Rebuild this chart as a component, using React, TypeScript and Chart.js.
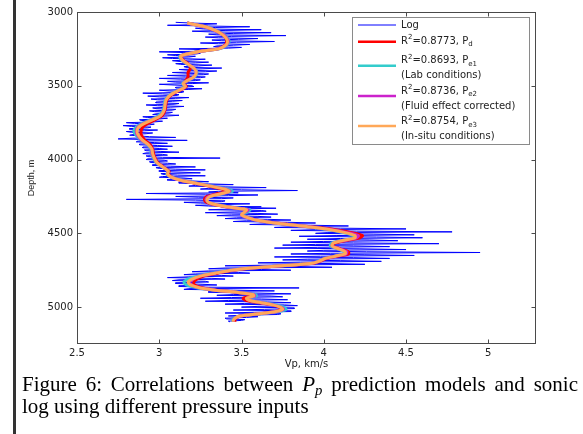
import React, { useEffect, useRef } from 'react';
import { Chart, registerables } from 'chart.js';
Chart.register(...registerables);

// ---- axis ticks ----
const xTicks = [2.5, 3, 3.5, 4, 4.5, 5];
const yTicks = [3000, 3500, 4000, 4500, 5000];

// ---- sonic log, samples on the 10 m grid (depth m, Vp km/s) ----
const logDepth = [
  3070, 3080, 3090, 3100, 3110, 3120, 3130, 3140, 3150, 3160,
  3170, 3180, 3190, 3200, 3210, 3220, 3230, 3240, 3250, 3260,
  3270, 3280, 3290, 3300, 3310, 3320, 3330, 3340, 3350, 3360,
  3370, 3380, 3390, 3400, 3410, 3420, 3430, 3440, 3450, 3460,
  3470, 3480, 3490, 3500, 3510, 3520, 3530, 3540, 3550, 3560,
  3570, 3580, 3590, 3600, 3610, 3620, 3630, 3640, 3650, 3660,
  3670, 3680, 3690, 3700, 3710, 3720, 3730, 3740, 3750, 3760,
  3770, 3780, 3790, 3800, 3810, 3820, 3830, 3840, 3850, 3860,
  3870, 3880, 3890, 3900, 3910, 3920, 3930, 3940, 3950, 3960,
  3970, 3980, 3990, 4000, 4010, 4020, 4030, 4040, 4050, 4060,
  4070, 4080, 4090, 4100, 4110, 4120, 4130, 4140, 4150, 4160,
  4170, 4180, 4190, 4200, 4210, 4220, 4230, 4240, 4250, 4260,
  4270, 4280, 4290, 4300, 4310, 4320, 4330, 4340, 4350, 4360,
  4370, 4380, 4390, 4400, 4410, 4420, 4430, 4440, 4450, 4460,
  4470, 4480, 4490, 4500, 4510, 4520, 4530, 4540, 4550, 4560,
  4570, 4580, 4590, 4600, 4610, 4620, 4630, 4640, 4650, 4660,
  4670, 4680, 4690, 4700, 4710, 4720, 4730, 4740, 4750, 4760,
  4770, 4780, 4790, 4800, 4810, 4820, 4830, 4840, 4850, 4860,
  4870, 4880, 4890, 4900, 4910, 4920, 4930, 4940, 4950, 4960,
  4970, 4980, 4990, 5000, 5010, 5020, 5030, 5040, 5050, 5060,
  5070, 5080, 5090, 5100,
];
const logVp = [
  3.10, 3.35, 3.05, 3.55, 3.22, 3.62, 3.20, 3.68, 3.30, 3.77,
  3.28, 3.60, 3.32, 3.70, 3.25, 3.55, 3.35, 3.50, 3.12, 3.30,
  3.00, 3.25, 3.05, 3.22, 3.02, 3.28, 3.08, 3.30, 3.10, 3.32,
  3.15, 3.38, 3.12, 3.35, 3.08, 3.30, 3.05, 3.28, 3.00, 3.25,
  3.05, 3.30, 3.00, 3.20, 3.10, 3.26, 3.00, 3.15, 2.90, 3.12,
  2.93, 3.18, 2.95, 3.14, 2.98, 3.12, 2.92, 3.15, 2.96, 3.10,
  2.94, 3.08, 2.98, 3.12, 2.90, 3.05, 2.88, 3.02, 2.80, 2.97,
  2.78, 2.95, 2.82, 2.99, 2.80, 2.96, 2.84, 2.88, 3.10, 2.75,
  3.17, 2.86, 3.05, 2.88, 3.08, 2.90, 3.05, 2.92, 3.12, 2.90,
  3.05, 2.93, 3.37, 2.92, 3.05, 2.95, 3.10, 2.96, 3.22, 3.00,
  3.28, 3.00, 3.25, 3.02, 3.28, 3.00, 3.20, 3.05, 3.30, 3.12,
  3.45, 3.18, 3.65, 3.25, 3.84, 3.30, 2.92, 3.60, 3.10, 3.45,
  2.80, 3.40, 3.15, 3.55, 3.22, 3.62, 3.71, 3.30, 3.65, 3.28,
  3.72, 3.35, 3.68, 3.40, 3.80, 3.45, 3.95, 3.55, 4.15, 3.70,
  4.50, 3.80, 4.78, 3.95, 4.55, 3.85, 4.60, 3.90, 4.45, 3.80,
  4.70, 3.75, 4.40, 3.70, 4.50, 3.90, 4.95, 3.80, 4.55, 3.70,
  4.40, 3.75, 4.35, 3.60, 4.25, 3.40, 4.05, 3.30, 3.80, 3.20,
  3.55, 3.15, 3.45, 3.05, 3.40, 3.08, 3.30, 3.10, 3.35, 3.12,
  3.85, 3.15, 3.70, 3.30, 3.80, 3.35, 3.75, 3.25, 3.78, 3.28,
  3.80, 3.40, 3.84, 3.50, 3.82, 3.45, 3.80, 3.40, 3.72, 3.42,
  3.53, 3.41, 3.50, 3.43,
];

// ---- sonic log, in-between samples (depth m, Vp km/s) ----
const logDepthMid = [
  3075, 3085, 3095, 3105, 3115, 3125, 3135, 3145, 3155, 3165,
  3175, 3185, 3195, 3205, 3215, 3225, 3235, 3245, 3255, 3265,
  3275, 3285, 3295, 3305, 3315, 3325, 3335, 3345, 3355, 3365,
  3375, 3385, 3395, 3405, 3415, 3425, 3435, 3445, 3455, 3465,
  3475, 3485, 3495, 3505, 3515, 3525, 3535, 3545, 3555, 3565,
  3575, 3585, 3595, 3605, 3615, 3625, 3635, 3645, 3655, 3665,
  3675, 3685, 3695, 3705, 3715, 3725, 3735, 3745, 3755, 3765,
  3775, 3785, 3795, 3805, 3815, 3825, 3835, 3845, 3855, 3865,
  3875, 3885, 3895, 3905, 3915, 3925, 3935, 3945, 3955, 3965,
  3975, 3985, 3995, 4005, 4015, 4025, 4035, 4045, 4055, 4065,
  4075, 4085, 4095, 4105, 4115, 4125, 4135, 4145, 4155, 4165,
  4175, 4185, 4195, 4205, 4215, 4225, 4235, 4245, 4255, 4265,
  4275, 4285, 4295, 4305, 4315, 4325, 4335, 4345, 4355, 4365,
  4375, 4385, 4395, 4405, 4415, 4425, 4435, 4445, 4455, 4465,
  4475, 4485, 4495, 4505, 4515, 4525, 4535, 4545, 4555, 4565,
  4575, 4585, 4595, 4605, 4615, 4625, 4635, 4645, 4655, 4665,
  4675, 4685, 4695, 4705, 4715, 4725, 4735, 4745, 4755, 4765,
  4775, 4785, 4795, 4805, 4815, 4825, 4835, 4845, 4855, 4865,
  4875, 4885, 4895, 4905, 4915, 4925, 4935, 4945, 4955, 4965,
  4975, 4985, 4995, 5005, 5015, 5025, 5035, 5045, 5055, 5065,
  5075, 5085, 5095,
];
const logVpMid = [
  3.20, 3.26, 3.30, 3.34, 3.27, 3.40, 3.31, 3.45, 3.35, 3.44,
  3.36, 3.48, 3.38, 3.47, 3.36, 3.45, 3.33, 3.42, 3.26, 3.30,
  3.15, 3.22, 3.10, 3.18, 3.08, 3.20, 3.12, 3.22, 3.13, 3.24,
  3.16, 3.26, 3.18, 3.28, 3.17, 3.27, 3.16, 3.25, 3.13, 3.22,
  3.10, 3.20, 3.09, 3.21, 3.10, 3.18, 3.06, 3.14, 3.02, 3.11,
  3.00, 3.10, 2.99, 3.08, 2.98, 3.09, 2.99, 3.07, 2.98, 3.08,
  2.97, 3.06, 2.96, 3.05, 2.93, 3.00, 2.89, 2.97, 2.85, 2.94,
  2.83, 2.93, 2.82, 2.91, 2.83, 2.92, 2.82, 2.94, 2.84, 2.95,
  2.87, 2.97, 2.88, 2.99, 2.90, 3.00, 2.91, 3.01, 2.92, 3.02,
  2.92, 3.02, 2.93, 3.03, 2.94, 3.05, 2.96, 3.07, 2.98, 3.10,
  3.00, 3.12, 3.01, 3.11, 3.02, 3.15, 3.05, 3.20, 3.12, 3.30,
  3.22, 3.40, 3.30, 3.50, 3.36, 3.48, 3.28, 3.42, 3.24, 3.38,
  3.22, 3.38, 3.25, 3.40, 3.30, 3.52, 3.45, 3.62, 3.46, 3.60,
  3.44, 3.60, 3.47, 3.66, 3.53, 3.78, 3.65, 3.92, 3.80, 4.10,
  3.95, 4.20, 4.02, 4.30, 4.08, 4.32, 4.10, 4.28, 4.00, 4.18,
  3.95, 4.18, 3.96, 4.22, 4.00, 4.26, 4.04, 4.25, 3.98, 4.18,
  3.90, 4.10, 3.86, 4.05, 3.70, 3.85, 3.40, 3.62, 3.30, 3.48,
  3.22, 3.38, 3.18, 3.32, 3.12, 3.28, 3.10, 3.26, 3.12, 3.30,
  3.18, 3.45, 3.30, 3.60, 3.45, 3.68, 3.44, 3.62, 3.42, 3.66,
  3.52, 3.76, 3.60, 3.82, 3.64, 3.80, 3.58, 3.74, 3.50, 3.60,
  3.40, 3.52, 3.42,
];

// ---- model predictions (depth m, Vp km/s) ----
const modelDepth = [
  3075, 3100, 3125, 3150, 3175, 3200, 3225, 3250, 3265, 3285,
  3300, 3325, 3350, 3380, 3410, 3440, 3465, 3485, 3505, 3525,
  3550, 3575, 3600, 3630, 3665, 3700, 3730, 3755, 3780, 3805,
  3830, 3865, 3900, 3930, 3960, 3990, 4020, 4050, 4080, 4100,
  4120, 4140, 4160, 4180, 4200, 4215, 4230, 4250, 4270, 4290,
  4310, 4325, 4340, 4355, 4375, 4395, 4415, 4435, 4455, 4475,
  4495, 4515, 4530, 4545, 4565, 4585, 4605, 4625, 4640, 4655,
  4670, 4690, 4705, 4720, 4735, 4750, 4770, 4790, 4810, 4830,
  4850, 4870, 4885, 4900, 4915, 4925, 4940, 4955, 4970, 4985,
  5000, 5015, 5030, 5045, 5060, 5075, 5090, 5100,
];
const pdVp = [
  3.17, 3.28, 3.34, 3.38, 3.405, 3.41, 3.40, 3.355, 3.26, 3.17,
  3.13, 3.145, 3.175, 3.19, 3.175, 3.175, 3.16, 3.15, 3.165, 3.135,
  3.09, 3.06, 3.045, 3.04, 3.035, 3.02, 2.975, 2.93, 2.90, 2.89,
  2.89, 2.91, 2.945, 2.96, 2.965, 2.975, 2.99, 3.025, 3.06, 3.055,
  3.08, 3.13, 3.215, 3.30, 3.38, 3.41, 3.36, 3.29, 3.275, 3.29,
  3.355, 3.44, 3.53, 3.525, 3.505, 3.545, 3.615, 3.75, 3.92, 4.07,
  4.17, 4.235, 4.22, 4.15, 4.07, 4.055, 4.10, 4.15, 4.15, 4.08,
  4.02, 3.975, 3.925, 3.75, 3.565, 3.45, 3.355, 3.27, 3.23, 3.21,
  3.215, 3.265, 3.345, 3.47, 3.565, 3.565, 3.51, 3.53, 3.61, 3.685,
  3.73, 3.745, 3.705, 3.61, 3.495, 3.465, 3.46, 3.46,
];
const pe1Vp = [
  3.17, 3.285, 3.345, 3.39, 3.415, 3.425, 3.41, 3.365, 3.26, 3.165,
  3.125, 3.135, 3.165, 3.21, 3.23, 3.215, 3.17, 3.14, 3.155, 3.125,
  3.08, 3.05, 3.035, 3.03, 3.025, 3.0, 2.95, 2.895, 2.86, 2.845,
  2.855, 2.885, 2.93, 2.95, 2.95, 2.965, 2.98, 3.02, 3.055, 3.045,
  3.075, 3.135, 3.23, 3.325, 3.415, 3.445, 3.39, 3.31, 3.285, 3.30,
  3.37, 3.455, 3.55, 3.535, 3.505, 3.545, 3.615, 3.74, 3.895, 4.03,
  4.12, 4.18, 4.18, 4.125, 4.05, 4.04, 4.085, 4.125, 4.125, 4.065,
  4.005, 3.965, 3.915, 3.73, 3.55, 3.43, 3.325, 3.235, 3.175, 3.15,
  3.165, 3.235, 3.335, 3.475, 3.585, 3.59, 3.535, 3.555, 3.63, 3.71,
  3.755, 3.77, 3.725, 3.62, 3.49, 3.455, 3.445, 3.445,
];
const pe2Vp = [
  3.17, 3.28, 3.34, 3.385, 3.41, 3.42, 3.405, 3.36, 3.26, 3.17,
  3.13, 3.14, 3.17, 3.21, 3.225, 3.21, 3.17, 3.145, 3.16, 3.13,
  3.085, 3.055, 3.04, 3.035, 3.03, 3.01, 2.96, 2.905, 2.87, 2.86,
  2.865, 2.89, 2.935, 2.955, 2.955, 2.97, 2.985, 3.02, 3.055, 3.05,
  3.075, 3.13, 3.225, 3.315, 3.40, 3.43, 3.38, 3.305, 3.285, 3.30,
  3.36, 3.445, 3.54, 3.525, 3.50, 3.54, 3.61, 3.745, 3.905, 4.05,
  4.145, 4.21, 4.20, 4.14, 4.06, 4.05, 4.095, 4.14, 4.135, 4.07,
  4.01, 3.97, 3.92, 3.74, 3.56, 3.44, 3.34, 3.25, 3.205, 3.185,
  3.195, 3.25, 3.34, 3.47, 3.575, 3.58, 3.53, 3.55, 3.62, 3.695,
  3.74, 3.755, 3.715, 3.61, 3.49, 3.46, 3.45, 3.45,
];
const pe3Vp = [
  3.17, 3.28, 3.34, 3.38, 3.405, 3.415, 3.405, 3.36, 3.26, 3.17,
  3.13, 3.14, 3.17, 3.21, 3.225, 3.21, 3.17, 3.145, 3.16, 3.13,
  3.085, 3.055, 3.04, 3.035, 3.03, 3.01, 2.96, 2.91, 2.875, 2.865,
  2.87, 2.895, 2.935, 2.955, 2.96, 2.97, 2.985, 3.02, 3.055, 3.05,
  3.075, 3.13, 3.22, 3.31, 3.395, 3.425, 3.38, 3.31, 3.29, 3.30,
  3.36, 3.44, 3.53, 3.52, 3.50, 3.54, 3.61, 3.74, 3.90, 4.04,
  4.13, 4.19, 4.19, 4.13, 4.06, 4.05, 4.09, 4.13, 4.13, 4.07,
  4.01, 3.97, 3.92, 3.74, 3.56, 3.44, 3.34, 3.25, 3.20, 3.175,
  3.19, 3.25, 3.34, 3.47, 3.57, 3.575, 3.53, 3.55, 3.62, 3.69,
  3.735, 3.75, 3.71, 3.61, 3.49, 3.46, 3.45, 3.45,
];

// ---- legend content ----
const seriesColors = ['#0000ff', '#ff0000', '#33cccc', '#cc22cc', '#ffa858'];
const r2Values = ['', '0.8773', '0.8693', '0.8736', '0.8754'];
const pSubs = ['', 'd', 'e1', 'e2', 'e3'];
const notes = ['', '', '(Lab conditions)', '(Fluid effect corrected)', '(In-situ conditions)'];

const FONT = '"DejaVu Sans", sans-serif';

function pts(xs: number[], ys: number[]) {
  return xs.map((x, i) => ({ x, y: ys[i] }));
}

function logPoints() {
  const all = [...pts(logVp, logDepth), ...pts(logVpMid, logDepthMid)];
  return all.sort((a, b) => a.y - b.y);
}

function drawRich(ctx: CanvasRenderingContext2D, x: number, y: number, parts: [string, string][]) {
  let cx = x;
  for (const [t, kind] of parts) {
    if (kind === 'n') {
      ctx.font = `10px ${FONT}`;
      ctx.fillText(t, cx, y);
    } else if (kind === 'sup') {
      ctx.font = `7px ${FONT}`;
      ctx.fillText(t, cx, y - 3.5);
    } else {
      ctx.font = `7px ${FONT}`;
      ctx.fillText(t, cx, y + 3.5);
    }
    cx += ctx.measureText(t).width;
  }
}

const framePlugin = {
  id: 'frameAndLegend',
  afterDraw(chart: any) {
    const { ctx, chartArea: a, scales } = chart;
    ctx.save();
    const L = Math.round(a.left) + 0.5;
    const R = Math.round(a.right) - 0.5;
    const T = Math.round(a.top) + 0.5;
    const B = Math.round(a.bottom) - 0.5;
    ctx.strokeStyle = '#4a4a4a';
    ctx.lineWidth = 1;
    ctx.strokeRect(L, T, R - L, B - T);
    ctx.beginPath();
    for (const v of xTicks) {
      const px = Math.round(scales.x.getPixelForValue(v)) + 0.5;
      ctx.moveTo(px, B); ctx.lineTo(px, B - 4);
      ctx.moveTo(px, T); ctx.lineTo(px, T + 4);
    }
    for (const v of yTicks) {
      const py = Math.round(scales.y.getPixelForValue(v)) + 0.5;
      ctx.moveTo(L, py); ctx.lineTo(L + 4, py);
      ctx.moveTo(R, py); ctx.lineTo(R - 4, py);
    }
    ctx.stroke();

    // legend
    const lx = Math.round(a.right) - 184;
    const ly = Math.round(a.top) + 5;
    ctx.fillStyle = '#ffffff';
    ctx.fillRect(lx, ly, 177, 127);
    ctx.strokeStyle = '#8a8a8a';
    ctx.strokeRect(lx + 0.5, ly + 0.5, 177, 127);
    const lineYs = [8, 24.7, 48.7, 79, 109];
    const textYs = [8, 24, 43.7, 74, 104.7];
    const noteYs = [0, 0, 58.7, 89, 119.7];
    ctx.textBaseline = 'middle';
    ctx.textAlign = 'left';
    for (let i = 0; i < seriesColors.length; i++) {
      ctx.strokeStyle = seriesColors[i];
      ctx.lineWidth = i === 0 ? 1 : 2.5;
      ctx.beginPath();
      ctx.moveTo(lx + 6, ly + lineYs[i]);
      ctx.lineTo(lx + 44, ly + lineYs[i]);
      ctx.stroke();
      ctx.fillStyle = '#222';
      if (i === 0) {
        drawRich(ctx, lx + 49, ly + textYs[i], [['Log', 'n']]);
      } else {
        drawRich(ctx, lx + 49, ly + textYs[i], [
          ['R', 'n'], ['2', 'sup'], ['=' + r2Values[i] + ', P', 'n'], [pSubs[i], 'sub'],
        ]);
        if (notes[i]) drawRich(ctx, lx + 49, ly + noteYs[i], [[notes[i], 'n']]);
      }
    }
    ctx.restore();
  },
};

export default function App() {
  const ref = useRef<HTMLCanvasElement>(null);
  useEffect(() => {
    const chart = new Chart(ref.current as HTMLCanvasElement, {
      type: 'scatter',
      data: {
        datasets: [
          { label: 'Log', data: logPoints(), borderColor: seriesColors[0], backgroundColor: seriesColors[0], borderWidth: 1, showLine: true, pointRadius: 0, tension: 0, order: 5 },
          { label: 'Pd', data: pts(pdVp, modelDepth), borderColor: seriesColors[1], backgroundColor: seriesColors[1], borderWidth: 3, showLine: true, pointRadius: 0, tension: 0.3, order: 4 },
          { label: 'Pe1', data: pts(pe1Vp, modelDepth), borderColor: seriesColors[2], backgroundColor: seriesColors[2], borderWidth: 3, showLine: true, pointRadius: 0, tension: 0.3, order: 3 },
          { label: 'Pe2', data: pts(pe2Vp, modelDepth), borderColor: seriesColors[3], backgroundColor: seriesColors[3], borderWidth: 3, showLine: true, pointRadius: 0, tension: 0.3, order: 2 },
          { label: 'Pe3', data: pts(pe3Vp, modelDepth), borderColor: seriesColors[4], backgroundColor: seriesColors[4], borderWidth: 3, showLine: true, pointRadius: 0, tension: 0.3, order: 1 },
        ],
      },
      options: {
        animation: false,
        responsive: false,
        devicePixelRatio: 1,
        layout: { padding: { top: 12, right: 47, left: 0, bottom: 0 } },
        plugins: { legend: { display: false }, tooltip: { enabled: false } },
        scales: {
          x: {
            type: 'linear',
            position: 'bottom',
            min: 2.5,
            max: 5.29,
            afterFit: (s: any) => { s.height = 31; },
            afterBuildTicks: (s: any) => { s.ticks = xTicks.map((v) => ({ value: v })); },
            grid: { display: false, drawTicks: false, tickLength: 0 },
            border: { display: false },
            ticks: { autoSkip: false, maxRotation: 0, padding: 3, color: '#222', font: { family: FONT, size: 10 }, callback: (v: any) => String(v) },
            title: { display: true, text: 'Vp, km/s', color: '#222', font: { family: FONT, size: 10 }, padding: { top: 0, bottom: 5 } },
          },
          y: {
            type: 'linear',
            position: 'left',
            reverse: true,
            min: 3000,
            max: 5250,
            afterFit: (s: any) => { s.width = 77; },
            afterBuildTicks: (s: any) => { s.ticks = yTicks.map((v) => ({ value: v })); },
            grid: { display: false, drawTicks: false, tickLength: 0 },
            border: { display: false },
            ticks: { autoSkip: false, padding: 4, color: '#222', font: { family: FONT, size: 10 }, callback: (v: any) => String(v) },
            title: { display: true, text: 'Depth, m', color: '#222', font: { family: '"Liberation Sans", Arial, sans-serif', size: 9 }, padding: { top: 26, bottom: 0 } },
          },
        },
      },
      plugins: [framePlugin],
    } as any);
    return () => chart.destroy();
  }, []);

  const capStyle: React.CSSProperties = {
    fontFamily: '"Liberation Serif", "Times New Roman", serif',
    fontSize: 21,
    lineHeight: '21px',
    color: '#000',
    whiteSpace: 'nowrap',
  };
  const subStyle: React.CSSProperties = { fontSize: '0.7em', lineHeight: 0, verticalAlign: '-0.25em' };

  return (
    <div style={{ position: 'absolute', left: 0, top: 0, width: 583, height: 434, background: '#fff', overflow: 'hidden' }}>
      <canvas ref={ref} width={583} height={375} style={{ position: 'absolute', left: 0, top: 0, width: 583, height: 375 }} />
      <div style={{ position: 'absolute', left: 13, top: 0, width: 3, height: 434, background: '#333' }} />
      <div style={{ ...capStyle, position: 'absolute', left: 22, top: 374, width: 556, textAlign: 'justify', textAlignLast: 'justify', whiteSpace: 'normal' }}>
        Figure 6: Correlations between <i>P</i><sub style={subStyle}><i>p</i></sub> prediction models and sonic
      </div>
      <div style={{ ...capStyle, position: 'absolute', left: 22, top: 396 }}>
        log using different pressure inputs
      </div>
    </div>
  );
}
